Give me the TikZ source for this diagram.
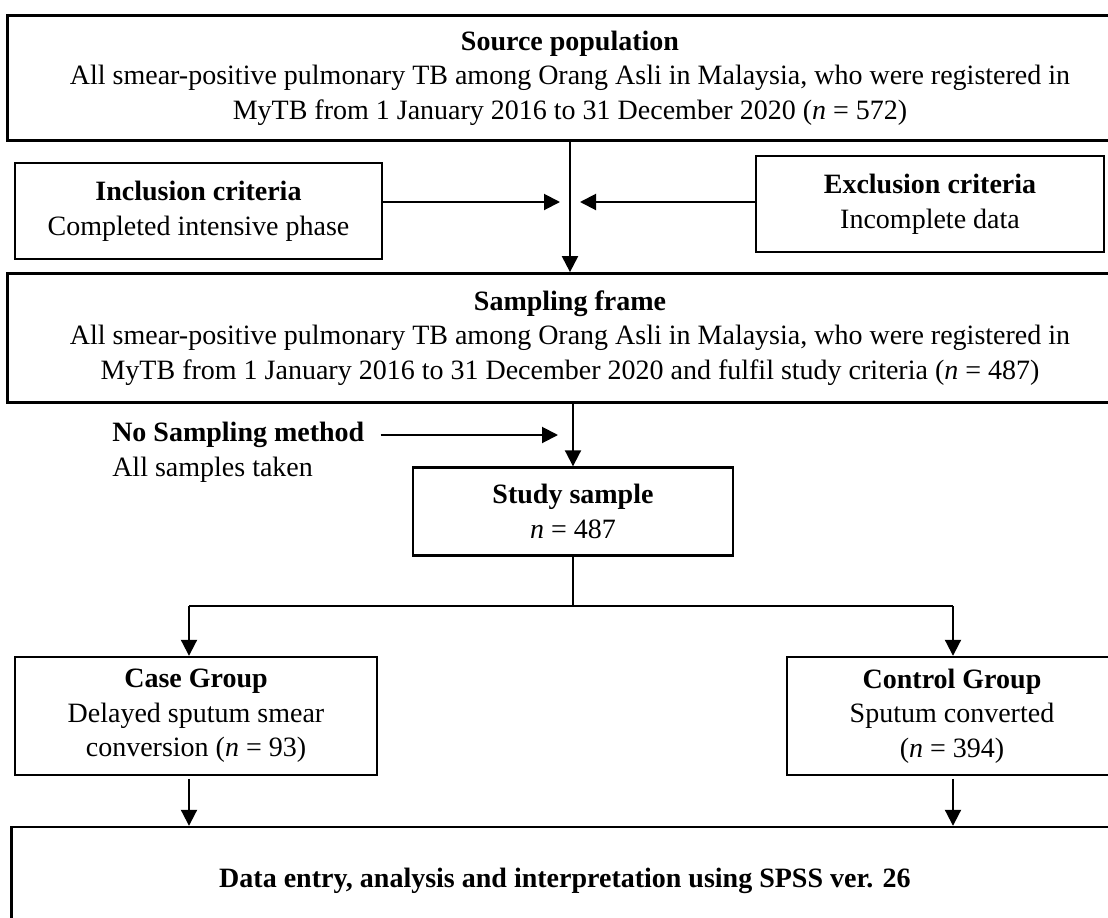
\documentclass[tikz,border=0pt]{standalone}
\usepackage{fontspec}
\setmainfont{Liberation Serif}
\usetikzlibrary{arrows.meta,calc}
\begin{document}
\begin{tikzpicture}[x=0.75pt,y=-0.75pt,
  box/.style={draw,line width=1.8pt,rectangle,inner sep=0pt,align=center,
    font=\fontsize{21}{26}\selectfont},
  txt/.style={inner sep=0pt,font=\fontsize{21}{26}\selectfont},
  arr/.style={line width=1.5pt,-{Triangle[length=12pt,width=12pt]}},
  ln/.style={line width=1.5pt}]
\useasboundingbox (0,0) rectangle (1108,918);
\clip (0,0) rectangle (1108,918);
% boxes
\node[box,minimum width=844pt,minimum height=94pt] (src) at (570,78)
  {\textbf{Source population}\\All smear-positive pulmonary TB among Orang Asli in Malaysia, who were registered in\\MyTB from 1 January 2016 to 31 December 2020 (\textit{n} = 572)};
\node[box,minimum width=275pt,minimum height=72pt] (incl) at (198.5,211)
  {\textbf{Inclusion criteria}\\Completed intensive phase};
\node[box,minimum width=261pt,minimum height=72pt] (excl) at (930,204)
  {\textbf{Exclusion criteria}\\Incomplete data};
\node[box,minimum width=844pt,minimum height=97pt] (frame) at (570,338)
  {\textbf{Sampling frame}\\All smear-positive pulmonary TB among Orang Asli in Malaysia, who were registered in\\MyTB from 1 January 2016 to 31 December 2020 and fulfil study criteria (\textit{n} = 487)};
\node[box,minimum width=240pt,minimum height=66pt] (study) at (573,511.5)
  {\textbf{Study sample}\\\textit{n} = 487};
\node[txt,anchor=west] (nsm) at (112,435) {\textbf{No Sampling method}};
\node[txt,anchor=west] (ast) at (112,470) {All samples taken};
\node[box,minimum width=271.5pt,minimum height=88.5pt] (case) at (196,716)
  {\textbf{Case Group}\\Delayed sputum smear\\conversion (\textit{n} = 93)};
\node[box,minimum width=247.5pt,minimum height=88.5pt] (ctrl) at (952,716)
  {\textbf{Control Group}\\Sputum converted\\(\textit{n} = 394)};
\node[box,minimum width=830pt,minimum height=81pt] (data) at (565,881)
  {\textbf{Data entry, analysis and interpretation using SPSS ver. 26}};
% connectors
\coordinate (inTip) at (560,202);
\coordinate (exTip) at (580,202);
\coordinate (nsTip) at (558,435);
\coordinate (L) at (189,606);
\coordinate (R) at (953,606);
\draw[arr] (src.south) -- (frame.north);
\draw[arr] (incl.east |- inTip) -- (inTip);
\draw[arr] (excl.west |- exTip) -- (exTip);
\draw[arr] (frame.south -| study.north) -- (study.north);
\draw[arr,shorten <=12pt] (nsm.east) -- (nsTip);
\draw[ln] (study.south) -- (study.south |- L);
\draw[ln] (L) -- (R);
\draw[arr] (L) -- (L |- case.north);
\draw[arr] (R) -- (R |- ctrl.north);
\draw[arr] ([yshift=-2pt]case.south -| L) -- (data.north -| L);
\draw[arr] ([yshift=-2pt]ctrl.south -| R) -- (data.north -| R);
\end{tikzpicture}
\end{document}
